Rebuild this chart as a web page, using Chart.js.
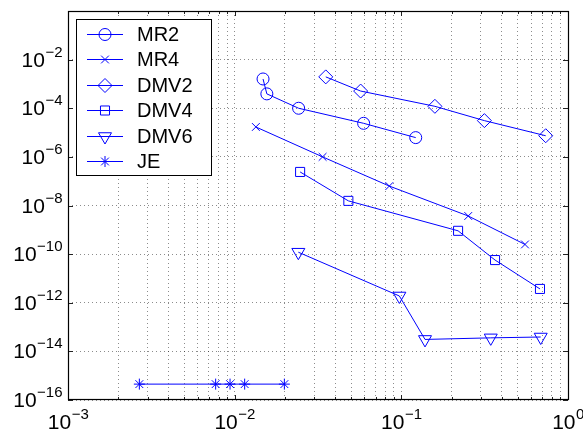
<!DOCTYPE html>
<html lang="en">
<head>
    <meta charset="UTF-8">
    <title>Error vs step size</title>
    <script src="https://cdn.jsdelivr.net/npm/chart.js"></script>
    <style>
        body {
            margin: 0;
            background: #fff;
        }
        #wrap {
            width: 583px;
            height: 435px;
        }
    </style>
</head>
<body>
    <div id="wrap">
        <canvas id="errChart" width="583" height="435"></canvas>
    </div>

    <script>
        // values (log-log)
        const mr2X = [0.0148, 0.0156, 0.0242, 0.0594, 0.122];
        const mr2Y = [1.6e-3, 3.9e-4, 1.0e-4, 2.4e-5, 6.2e-6];
        const mr4X = [0.0134, 0.0337, 0.0847, 0.252, 0.552];
        const mr4Y = [1.7e-5, 1.0e-6, 6.3e-8, 3.7e-9, 2.5e-10];
        const dmv2X = [0.0352, 0.057, 0.159, 0.315, 0.735];
        const dmv2Y = [1.95e-3, 5.1e-4, 1.2e-4, 3.1e-5, 7.4e-6];
        const dmv4X = [0.0247, 0.0481, 0.219, 0.365, 0.679];
        const dmv4Y = [2.4e-7, 1.55e-8, 9.1e-10, 5.7e-11, 3.7e-12];
        const dmv6X = [0.0241, 0.0973, 0.1387, 0.344, 0.686];
        const dmv6Y = [1.2e-10, 1.9e-12, 3.1e-14, 3.6e-14, 3.9e-14];
        const jeX = [0.00268, 0.00769, 0.00938, 0.01148, 0.01987];
        const jeY = [4.5e-16, 4.5e-16, 4.5e-16, 4.5e-16, 4.5e-16];

        const xTickExps = [-3, -2, -1, 0];
        const yTickExps = [-16, -14, -12, -10, -8, -6, -4, -2, 0];
        const yLabelExps = [-16, -14, -12, -10, -8, -6, -4, -2];

        const blue = '#0000ff';
        const fontName = '"Liberation Sans", Arial, Helvetica, sans-serif';

        function pts(xs, ys) {
            return xs.map((x, i) => ({ x: x, y: ys[i] }));
        }

        function series(label, xs, ys, style, radius, rotation) {
            return {
                label: label,
                data: pts(xs, ys),
                borderColor: blue,
                borderWidth: 1,
                pointStyle: style,
                pointRadius: radius,
                pointHoverRadius: radius,
                pointRotation: rotation || 0,
                pointBorderColor: blue,
                pointBackgroundColor: 'rgba(0,0,0,0)',
                pointBorderWidth: 1,
                fill: false,
                tension: 0
            };
        }

        // x ticks: every 1..9 x 10^k so the dotted grid shows the minor lines
        function xTicks() {
            const out = [];
            for (let e = -3; e < 0; e++) {
                for (let k = 1; k <= 9; k++) out.push({ value: k * Math.pow(10, e) });
            }
            out.push({ value: 1 });
            return out;
        }

        function drawPow(ctx, exp, x, baseline, align) {
            const expText = exp < 0 ? '\u2212' + (-exp) : String(exp);
            ctx.font = '21px ' + fontName;
            const w1 = ctx.measureText('10').width;
            ctx.font = '15px ' + fontName;
            const w2 = ctx.measureText(expText).width;
            let start = align === 'center' ? x - (w1 + w2) / 2 : x - (w1 + w2);
            ctx.textAlign = 'left';
            ctx.textBaseline = 'alphabetic';
            ctx.font = '21px ' + fontName;
            ctx.fillText('10', start, baseline);
            ctx.font = '15px ' + fontName;
            ctx.fillText(expText, start + w1 + 0.5, baseline - 10);
        }

        const framePlugin = {
            id: 'frame',
            afterDatasetsDraw(chart) {
                const ctx = chart.ctx;
                const area = chart.chartArea;
                const xs = chart.scales.x;
                const ys = chart.scales.y;
                ctx.save();

                // inner tick marks
                ctx.strokeStyle = '#222';
                ctx.lineWidth = 1;
                ctx.beginPath();
                xTicks().forEach(t => {
                    const px = Math.round(xs.getPixelForValue(t.value)) + 0.5;
                    const major = Math.abs(Math.log10(t.value) - Math.round(Math.log10(t.value))) < 1e-9;
                    const len = major ? 5 : 3;
                    ctx.moveTo(px, area.bottom);
                    ctx.lineTo(px, area.bottom - len);
                    ctx.moveTo(px, area.top);
                    ctx.lineTo(px, area.top + len);
                });
                yTickExps.forEach(e => {
                    const py = Math.round(ys.getPixelForValue(Math.pow(10, e))) + 0.5;
                    ctx.moveTo(area.left, py);
                    ctx.lineTo(area.left + 5, py);
                    ctx.moveTo(area.right, py);
                    ctx.lineTo(area.right - 5, py);
                });
                ctx.stroke();

                // axes box
                ctx.strokeStyle = '#000';
                ctx.lineWidth = 1.2;
                ctx.strokeRect(area.left + 0.5, area.top + 0.5, area.right - area.left, area.bottom - area.top - 1);

                // tick labels
                ctx.fillStyle = '#000';
                xTickExps.forEach(e => {
                    drawPow(ctx, e, xs.getPixelForValue(Math.pow(10, e)), 429, 'center');
                });
                yLabelExps.forEach(e => {
                    drawPow(ctx, e, 62, ys.getPixelForValue(Math.pow(10, e)) + 7, 'right');
                });

                // legend box
                const lx = 76, ly = 19, lw = 135, lh = 156;
                ctx.fillStyle = '#fff';
                ctx.fillRect(lx, ly, lw, lh);
                ctx.strokeStyle = '#000';
                ctx.lineWidth = 1;
                ctx.strokeRect(lx + 0.5, ly + 0.5, lw, lh);

                chart.data.datasets.forEach((ds, i) => {
                    const ry = Math.round(33.8 + i * 25.45) + 0.5;
                    ctx.strokeStyle = blue;
                    ctx.lineWidth = 1;
                    ctx.beginPath();
                    ctx.moveTo(87, ry);
                    ctx.lineTo(123, ry);
                    ctx.stroke();
                    if (Chart.helpers && Chart.helpers.drawPoint) {
                        ctx.fillStyle = 'rgba(0,0,0,0)';
                        Chart.helpers.drawPoint(ctx, {
                            pointStyle: ds.pointStyle,
                            radius: ds.pointRadius,
                            rotation: ds.pointRotation,
                            borderWidth: 1
                        }, 105, ry);
                    }
                    ctx.fillStyle = '#000';
                    ctx.font = '20px ' + fontName;
                    ctx.textAlign = 'left';
                    ctx.textBaseline = 'middle';
                    ctx.fillText(ds.label, 137, ry + 1);
                });

                ctx.restore();
            }
        };

        const gridOpts = {
            color: 'rgba(0,0,0,0.45)',
            lineWidth: 1,
            drawTicks: false
        };

        new Chart(document.getElementById('errChart').getContext('2d'), {
            type: 'line',
            data: {
                datasets: [
                    series('MR2', mr2X, mr2Y, 'circle', 6),
                    series('MR4', mr4X, mr4Y, 'crossRot', 5.5),
                    series('DMV2', dmv2X, dmv2Y, 'rectRot', 7),
                    series('DMV4', dmv4X, dmv4Y, 'rect', 6.4),
                    series('DMV6', dmv6X, dmv6Y, 'triangle', 7.5, 180),
                    series('JE', jeX, jeY, 'star', 5.5)
                ]
            },
            options: {
                responsive: false,
                animation: false,
                devicePixelRatio: 1,
                layout: { padding: { top: 11, right: 15, left: 0, bottom: 0 } },
                plugins: {
                    legend: { display: false },
                    tooltip: { enabled: false }
                },
                scales: {
                    x: {
                        type: 'logarithmic',
                        min: 1e-3,
                        max: 1,
                        grid: gridOpts,
                        border: { display: false, dash: [1, 3] },
                        ticks: { display: false },
                        afterBuildTicks: scale => { scale.ticks = xTicks(); },
                        afterFit: scale => { scale.height = 35; }
                    },
                    y: {
                        type: 'logarithmic',
                        min: 1e-16,
                        max: 1,
                        grid: gridOpts,
                        border: { display: false, dash: [1, 3] },
                        ticks: { display: false },
                        afterBuildTicks: scale => {
                            scale.ticks = yTickExps.map(e => ({ value: Math.pow(10, e) }));
                        },
                        afterFit: scale => { scale.width = 68; }
                    }
                }
            },
            plugins: [framePlugin]
        });
    </script>
</body>
</html>
